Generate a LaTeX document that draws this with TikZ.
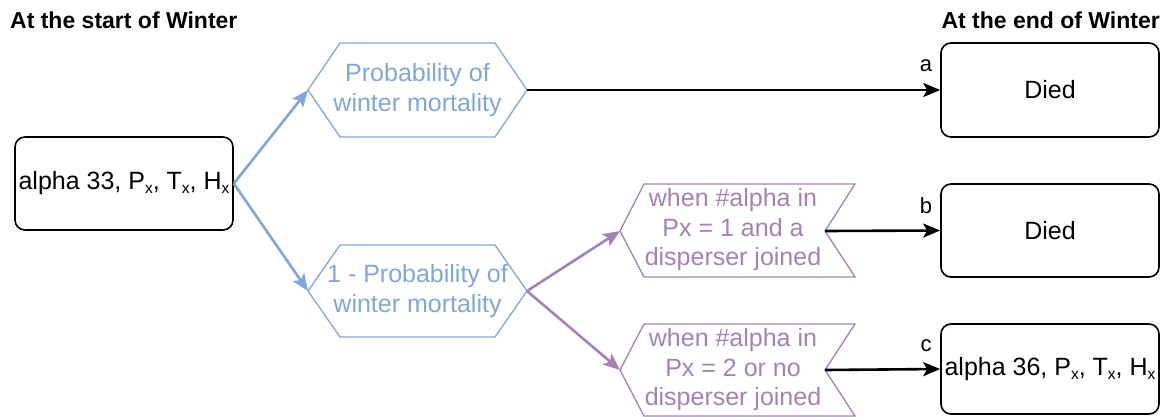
\documentclass[tikz,border=0pt]{standalone}
\usepackage{fontspec}
\setmainfont{Liberation Sans}
\usetikzlibrary{arrows.meta}
\definecolor{hexblue}{HTML}{7EA6E0}
\definecolor{chevpurple}{HTML}{A680B8}
% small lowered x used as an index
\newcommand{\subx}{\raisebox{-4pt}{\fontsize{15.5}{15.5}\selectfont x}}
\begin{document}
\begin{tikzpicture}[x=1pt,y=-1pt,
  bodytext/.style={font=\fontsize{25}{29.5}\selectfont, align=center, inner sep=0pt},
  title/.style={font=\bfseries\fontsize{23}{28}\selectfont, inner sep=0pt},
  statebox/.style={draw=black, line width=1.6pt, rounded corners=10pt, minimum width=218pt,
    minimum height=93pt, inner sep=0pt, bodytext},
  hexshape/.style={draw=hexblue, line width=1.3pt, line join=miter},
  chevshape/.style={draw=chevpurple, line width=1.3pt, line join=miter},
  tip/.style={-{Stealth[length=17pt,width=14pt,inset=4pt]}},
  bluearrow/.style={tip, draw=hexblue, line width=2.6pt},
  purplearrow/.style={tip, draw=chevpurple, line width=2.6pt},
  blackarrow/.style={tip, draw=black, line width=2.6pt},
  letter/.style={font=\fontsize{22}{26}\selectfont, inner sep=0pt}
]
\useasboundingbox (0,0) rectangle (1168,416);

% column headings
\node[title, anchor=west] (starthead) at (10,20) {At the start of Winter};
\node[title, anchor=east] (endhead) at (1160,20) {At the end of Winter};

% state boxes
\node[statebox] (start) at (124,183.5) {alpha 33, P\subx, T\subx, H\subx};
\node[statebox, minimum height=94pt] (died1) at (1050,90) {Died};
\node[statebox] (died2) at (1050,230.5) {Died};
\node[statebox, minimum height=90pt] (alive) at (1050,369) {alpha 36, P\subx, T\subx, H\subx};

% probability hexagons
\draw[hexshape] (308,90) -- (340,43) -- (495,43) -- (527,90) -- (495,137) -- (340,137) -- cycle;
\coordinate (pw) at (308,90);
\coordinate (pe) at (527,90);
\node[bodytext, text=hexblue] (ptext) at (417.5,90) {Probability of\\winter mortality};

\draw[hexshape] (308,291) -- (340,245) -- (495,245) -- (527,291) -- (495,337) -- (340,337) -- cycle;
\coordinate (qw) at (308,291);
\coordinate (qe) at (527,291);
\node[bodytext, text=hexblue] (qtext) at (417.5,291) {1 - Probability of\\winter mortality};

% condition chevrons
\draw[chevshape] (620,231) -- (644,184) -- (855,184) -- (825,231) -- (855,277) -- (644,277) -- cycle;
\coordinate (c1w) at (620,231);
\coordinate (c1e) at (825,231);
\node[bodytext, text=chevpurple] (c1text) at (733,230) {when \#alpha in\\Px = 1 and a\\disperser joined};

\draw[chevshape] (620,370) -- (644,324) -- (855,324) -- (825,370) -- (855,416) -- (644,416) -- cycle;
\coordinate (c2w) at (620,370);
\coordinate (c2e) at (825,370);
\node[bodytext, text=chevpurple] (c2text) at (733,370) {when \#alpha in\\Px = 2 or no\\disperser joined};

% connectors
\draw[bluearrow] (start.east) -- (pw);
\draw[bluearrow] (start.east) -- (qw);
\draw[purplearrow] (qe) -- (c1w);
\draw[purplearrow] (qe) -- (c2w);
\draw[blackarrow] (pe) -- (died1.west);
\draw[blackarrow] (c1e) -- (died2.west);
\draw[blackarrow] (c2e) -- (alive.west);

% outcome letters
\node[letter] (la) at (926,66) {a};
\node[letter] (lb) at (926,206) {b};
\node[letter] (lc) at (926,346) {c};
\end{tikzpicture}
\end{document}
